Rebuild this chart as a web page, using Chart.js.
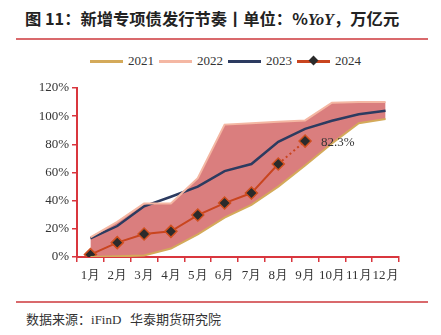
<!DOCTYPE html>
<html>
<head>
<meta charset="utf-8">
<script src="https://cdn.jsdelivr.net/npm/chart.js@4"></script>
<style>
  body { margin: 0; width: 441px; height: 335px; background: #fff; position: relative; overflow: hidden; }
  #title { position: absolute; left: 25px; top: 6px; font: bold 16.3px "Noto Sans CJK SC", sans-serif; color: #222; white-space: nowrap; }
  #title i { font-family: "Liberation Serif", serif; }
  .rule { position: absolute; left: 16px; width: 412px; height: 2px; background: #d9696c; }
  #legend { position: absolute; top: 53px; left: 90px; font: 13px "Liberation Serif", serif; color: #333; display: flex; align-items: center; white-space: nowrap; }
  #legend span.ln { display: inline-block; width: 33px; height: 3px; margin-right: 5px; position: relative; }
  #legend span.tx { margin-right: 5px; }
  #legend span.dm { position: absolute; left: 13px; top: -3px; width: 7px; height: 7px; background: #2b2b2b; transform: rotate(45deg); }
  #footer { position: absolute; left: 26px; top: 309px; font: 13px "Noto Sans CJK SC", sans-serif; color: #333; white-space: nowrap; }
  #footer .en { font-family: "Liberation Serif", serif; }
  canvas { position: absolute; left: 0; top: 0; }
</style>
</head>
<body>
<div id="title">图 11：新增专项债发行节奏丨单位：%<i>YoY</i>，万亿元</div>
<div class="rule" style="top:38px"></div>
<div id="legend"></div>
<div class="rule" style="top:301px"></div>
<div id="footer">数据来源：<span class="en">iFinD</span>&nbsp;&nbsp;&nbsp;华泰期货研究院</div>
<canvas id="chart" width="441" height="335"></canvas>
<script>
// months and cumulative issuance progress (% of annual quota)
const months = ['1月', '2月', '3月', '4月', '5月', '6月', '7月', '8月', '9月', '10月', '11月', '12月'];
const y2021 = [0, 0.5, 1, 6, 16, 28, 37, 50, 65, 80.6, 95, 98];
const y2022 = [14, 25, 38, 38, 56, 94, 95, 96, 97, 109.5, 110, 110];
const y2023 = [13.2, 22, 36, 42.8, 50, 61, 66, 81.8, 91, 96.7, 101.4, 103.8];
const y2024 = [1.7, 10.2, 16.3, 18.2, 29.8, 38.3, 45.4, 66, 82.3];
const yTicks = [0, 20, 40, 60, 80, 100, 120];

const legendItems = [
    {label: '2021', color: '#d4aa5a'},
    {label: '2022', color: '#f4b7a3'},
    {label: '2023', color: '#2c3b60'},
    {label: '2024', color: '#c9451f', marker: true}
];
const legend = document.getElementById('legend');
legendItems.forEach(it => {
    legend.innerHTML += `<span class="ln" style="background:${it.color}">${it.marker ? '<span class="dm"></span>' : ''}</span><span class="tx">${it.label}</span>`;
});

const red = '#d9363e';

// label for last 2024 point
const lastLabel = {
    id: 'lastLabel',
    afterDatasetsDraw(chart) {
        const meta = chart.getDatasetMeta(3);
        const p = meta.data[meta.data.length - 1];
        const ctx = chart.ctx;
        ctx.save();
        ctx.font = '13px "Liberation Serif", serif';
        ctx.fillStyle = '#333';
        ctx.textBaseline = 'middle';
        ctx.fillText(y2024[y2024.length - 1] + '%', p.x + 16, p.y + 1);
        ctx.restore();
    }
};

new Chart(document.getElementById('chart'), {
    type: 'line',
    data: {
        labels: months,
        datasets: [
            {label: '2021', data: y2021, borderColor: '#d4aa5a', borderWidth: 2, pointRadius: 0, fill: false},
            {label: '2022', data: y2022, borderColor: '#f4b7a3', borderWidth: 2, pointRadius: 0,
             fill: '-1', backgroundColor: 'rgba(213,108,108,0.88)'},
            {label: '2023', data: y2023, borderColor: '#2c3b60', borderWidth: 2.5, pointRadius: 0, fill: false},
            {label: '2024', data: y2024, borderColor: '#c9451f', borderWidth: 2, fill: false,
             pointStyle: 'rectRot', pointRadius: 6, pointBackgroundColor: '#2b2b2b',
             pointBorderColor: '#d0501f', pointBorderWidth: 1.5,
             segment: {borderDash: c => c.p0DataIndex === 7 ? [2, 3] : undefined}}
        ]
    },
    options: {
        responsive: false,
        animation: false,
        layout: {padding: {left: 0, right: 42, top: 88, bottom: 0}},
        plugins: {legend: {display: false}, tooltip: {enabled: false}, filler: {drawTime: 'beforeDatasetsDraw'}},
        scales: {
            x: {
                offset: true,
                border: {color: red, width: 2},
                grid: {offset: true, drawOnChartArea: false, color: red, tickLength: 5, lineWidth: 1.5},
                ticks: {color: '#333', font: {family: '"Liberation Serif", serif', size: 13}, padding: 6, maxRotation: 0, autoSkip: false},
                afterFit: s => { s.height = 335 - 257; }
            },
            y: {
                min: 0, max: 120,
                afterBuildTicks: s => { s.ticks = yTicks.map(v => ({value: v})); },
                border: {color: red, width: 2},
                grid: {drawOnChartArea: false, color: red, tickLength: 5, lineWidth: 1.5},
                ticks: {color: '#333', font: {family: '"Liberation Serif", serif', size: 13}, padding: 3, callback: v => v + '%'},
                afterFit: s => { s.width = 77; }
            }
        }
    },
    plugins: [lastLabel]
});
</script>
</body>
</html>
